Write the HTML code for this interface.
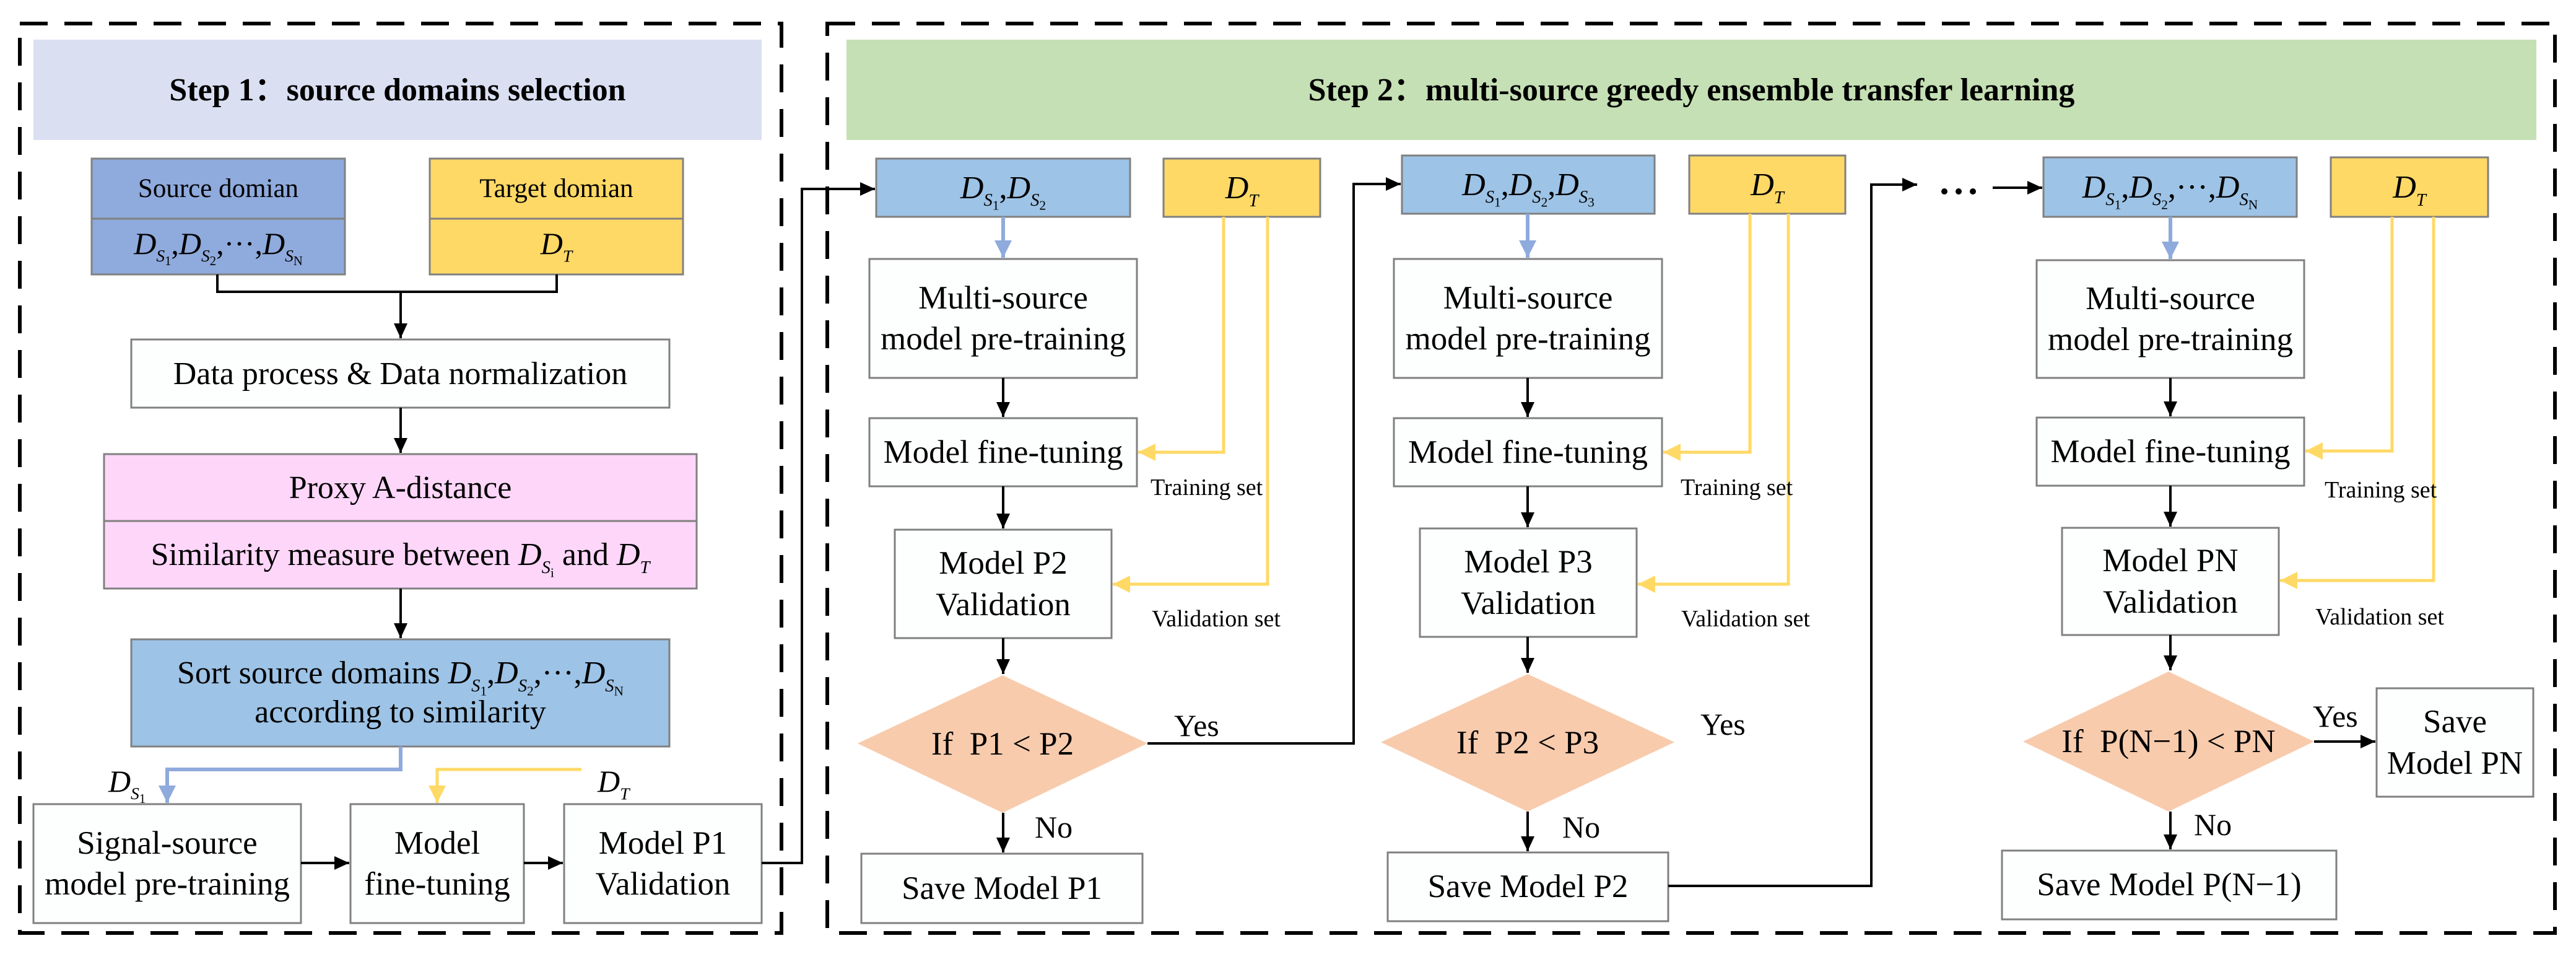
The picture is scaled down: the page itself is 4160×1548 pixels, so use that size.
<!DOCTYPE html>
<html><head><meta charset="utf-8">
<style>
html,body{margin:0;padding:0;background:#fff;}
#c{position:relative;width:4160px;height:1548px;overflow:hidden;background:#fff;font-family:"Liberation Serif","Times New Roman","DejaVu Serif",serif;color:#000;}
svg{position:absolute;left:0;top:0;}
.t{position:absolute;display:flex;align-items:center;justify-content:center;text-align:center;font-size:53px;line-height:1.25;white-space:nowrap;}
.t>div{display:block;}
.h{font-weight:bold;font-size:52px;}
.s{font-size:38px;position:absolute;white-space:nowrap;line-height:1;}
.y{font-size:50px;position:absolute;white-space:nowrap;line-height:1;}
i{font-style:italic;}
.sb{font-size:0.55em;vertical-align:-0.45em;font-style:italic;line-height:0;}
.sb2{font-size:0.75em;vertical-align:-0.3em;font-style:normal;line-height:0;}
</style></head><body><div id="c">
<svg width="4160" height="1548" viewBox="0 0 4160 1548">
<defs>
<marker id="ak" markerUnits="userSpaceOnUse" markerWidth="26" markerHeight="24" refX="24" refY="11" orient="auto"><path d="M0,0 L24,11 L0,22 z" fill="#000"/></marker>
<marker id="ab" markerUnits="userSpaceOnUse" markerWidth="30" markerHeight="30" refX="28" refY="14" orient="auto"><path d="M0,0 L28,14 L0,28 z" fill="#8faadc"/></marker>
<marker id="ay" markerUnits="userSpaceOnUse" markerWidth="30" markerHeight="30" refX="28" refY="14" orient="auto"><path d="M0,0 L28,14 L0,28 z" fill="#ffd966"/></marker>
</defs>
<g fill="none" stroke="#000" stroke-width="6" stroke-dasharray="45 27">
<rect x="32" y="38" width="1230" height="1468"/>
<rect x="1336" y="38" width="2790" height="1468"/>
</g>
<rect x="54" y="64" width="1176" height="162" fill="#dae0f2"/>
<rect x="1367" y="64" width="2729" height="162" fill="#c5e0b4"/>
<g stroke="#808080" stroke-width="3">
<rect x="148" y="256" width="409" height="187" fill="#8faadc"/>
<line x1="148" y1="353" x2="557" y2="353"/>
<rect x="694" y="256" width="409" height="187" fill="#ffd966"/>
<line x1="694" y1="353" x2="1103" y2="353"/>
<rect x="212" y="548" width="869" height="110" fill="#fdfefe"/>
<rect x="168" y="733" width="957" height="217" fill="#fdd6fa"/>
<line x1="168" y1="841" x2="1125" y2="841"/>
<rect x="212" y="1032" width="869" height="173" fill="#9dc3e6"/>
<rect x="54" y="1298" width="432" height="192" fill="#fdfefe"/>
<rect x="566" y="1298" width="280" height="192" fill="#fdfefe"/>
<rect x="911" y="1298" width="319" height="192" fill="#fdfefe"/>

<rect x="1415" y="256" width="410" height="94" fill="#9dc3e6"/>
<rect x="1879" y="256" width="253" height="94" fill="#ffd966"/>
<rect x="1404" y="418" width="432" height="192" fill="#fdfefe"/>
<rect x="1404" y="675" width="432" height="110" fill="#fdfefe"/>
<rect x="1445" y="855" width="350" height="175" fill="#fdfefe"/>
<rect x="1391" y="1378" width="454" height="112" fill="#fdfefe"/>

<rect x="2264" y="251" width="408" height="94" fill="#9dc3e6"/>
<rect x="2728" y="251" width="252" height="94" fill="#ffd966"/>
<rect x="2251" y="418" width="433" height="192" fill="#fdfefe"/>
<rect x="2251" y="675" width="433" height="110" fill="#fdfefe"/>
<rect x="2293" y="853" width="350" height="175" fill="#fdfefe"/>
<rect x="2241" y="1376" width="453" height="111" fill="#fdfefe"/>

<rect x="3300" y="254" width="409" height="96" fill="#9dc3e6"/>
<rect x="3764" y="254" width="254" height="96" fill="#ffd966"/>
<rect x="3289" y="420" width="432" height="190" fill="#fdfefe"/>
<rect x="3289" y="674" width="432" height="110" fill="#fdfefe"/>
<rect x="3330" y="852" width="350" height="173" fill="#fdfefe"/>
<rect x="3838" y="1111" width="253" height="175" fill="#fdfefe"/>
<rect x="3233" y="1373" width="540" height="111" fill="#fdfefe"/>
</g>
<g fill="#f8cbad">
<polygon points="1385,1200 1619,1090 1853,1200 1619,1312"/>
<polygon points="2230,1198 2467,1088 2704,1198 2467,1310"/>
<polygon points="3267,1197 3502,1084 3737,1197 3502,1310"/>
</g>
<g fill="none" stroke="#000" stroke-width="4">
<path d="M351 443 V471 H899 V443"/>
<path d="M647 471 V546" marker-end="url(#ak)"/>
<path d="M647 658 V731" marker-end="url(#ak)"/>
<path d="M647 950 V1030" marker-end="url(#ak)"/>
<path d="M486 1393 H564" marker-end="url(#ak)"/>
<path d="M846 1393 H909" marker-end="url(#ak)"/>
<path d="M1230 1393 H1295 V305 H1413" marker-end="url(#ak)"/>

<path d="M1620 610 V673" marker-end="url(#ak)"/>
<path d="M1620 785 V853" marker-end="url(#ak)"/>
<path d="M1620 1030 V1088" marker-end="url(#ak)"/>
<path d="M1620 1312 V1376" marker-end="url(#ak)"/>
<path d="M1853 1200 H2186 V297 H2262" marker-end="url(#ak)"/>

<path d="M2467 610 V673" marker-end="url(#ak)"/>
<path d="M2467 785 V851" marker-end="url(#ak)"/>
<path d="M2467 1028 V1086" marker-end="url(#ak)"/>
<path d="M2467 1310 V1374" marker-end="url(#ak)"/>
<path d="M2694 1430 H3022 V298 H3096" marker-end="url(#ak)"/>
<path d="M3218 303 H3298" marker-end="url(#ak)"/>

<path d="M3505 610 V672" marker-end="url(#ak)"/>
<path d="M3505 784 V850" marker-end="url(#ak)"/>
<path d="M3505 1025 V1082" marker-end="url(#ak)"/>
<path d="M3505 1310 V1371" marker-end="url(#ak)"/>
<path d="M3737 1197 H3836" marker-end="url(#ak)"/>
</g>
<g fill="none" stroke="#8faadc" stroke-width="6">
<path d="M647 1205 V1242 H270 V1296" marker-end="url(#ab)"/>
<path d="M1620 350 V416" marker-end="url(#ab)"/>
<path d="M2467 345 V416" marker-end="url(#ab)"/>
<path d="M3505 350 V418" marker-end="url(#ab)"/>
</g>
<g fill="none" stroke="#ffd966" stroke-width="5">
<path d="M939 1242 H706 V1296" marker-end="url(#ay)"/>
<path d="M1976 350 V730 H1838" marker-end="url(#ay)"/>
<path d="M2047 350 V943 H1797" marker-end="url(#ay)"/>
<path d="M2826 345 V730 H2686" marker-end="url(#ay)"/>
<path d="M2888 345 V943 H2645" marker-end="url(#ay)"/>
<path d="M3863 350 V728 H3723" marker-end="url(#ay)"/>
<path d="M3930 350 V937 H3682" marker-end="url(#ay)"/>
</g>
<g fill="#000">
<circle cx="3140" cy="309" r="5"/><circle cx="3163" cy="309" r="5"/><circle cx="3186" cy="309" r="5"/>
</g>
</svg>

<div class="t h" style="left:54px;top:64px;width:1176px;height:162px;"><div>Step 1：source domains selection</div></div>
<div class="t h" style="left:1367px;top:64px;width:2729px;height:162px;"><div>Step 2：multi-source greedy ensemble transfer learning</div></div>

<div class="t" style="left:148px;top:256px;width:409px;height:97px;font-size:43px;"><div>Source domian</div></div>
<div class="t" style="left:148px;top:353px;width:409px;height:80px;font-size:50px;"><div><i>D</i><span class="sb">S<span class="sb2">1</span></span>,<i>D</i><span class="sb">S<span class="sb2">2</span></span>,···,<i>D</i><span class="sb">S<span class="sb2">N</span></span></div></div>
<div class="t" style="left:694px;top:256px;width:409px;height:97px;font-size:43px;"><div>Target domian</div></div>
<div class="t" style="left:694px;top:353px;width:409px;height:80px;font-size:50px;"><div><i>D</i><span class="sb">T</span></div></div>
<div class="t" style="left:212px;top:548px;width:869px;height:110px;font-size:52px;"><div>Data process &amp; Data normalization</div></div>
<div class="t" style="left:168px;top:733px;width:957px;height:108px;font-size:52px;"><div>Proxy A-distance</div></div>
<div class="t" style="left:168px;top:841px;width:957px;height:109px;font-size:52px;"><div>Similarity measure between&nbsp;<i>D</i><span class="sb">S<span class="sb2">i</span></span>&nbsp;and&nbsp;<i>D</i><span class="sb">T</span></div></div>
<div class="t" style="left:212px;top:1032px;width:869px;height:173px;font-size:52px;line-height:1.2;"><div>Sort source domains&nbsp;<i>D</i><span class="sb">S<span class="sb2">1</span></span>,<i>D</i><span class="sb">S<span class="sb2">2</span></span>,···,<i>D</i><span class="sb">S<span class="sb2">N</span></span><br>according to similarity</div></div>
<div class="y" style="left:175px;top:1236px;"><i>D</i><span class="sb">S<span class="sb2">1</span></span></div>
<div class="y" style="left:965px;top:1236px;"><i>D</i><span class="sb">T</span></div>
<div class="t" style="left:54px;top:1298px;width:432px;height:192px;"><div>Signal-source<br>model pre-training</div></div>
<div class="t" style="left:566px;top:1298px;width:280px;height:192px;"><div>Model<br>fine-tuning</div></div>
<div class="t" style="left:911px;top:1298px;width:319px;height:192px;"><div>Model P1<br>Validation</div></div>

<div class="t" style="left:1415px;top:256px;width:410px;height:94px;font-size:52px;"><div><i>D</i><span class="sb">S<span class="sb2">1</span></span>,<i>D</i><span class="sb">S<span class="sb2">2</span></span></div></div>
<div class="t" style="left:1879px;top:256px;width:253px;height:94px;font-size:52px;"><div><i>D</i><span class="sb">T</span></div></div>
<div class="t" style="left:1404px;top:418px;width:432px;height:192px;"><div>Multi-source<br>model pre-training</div></div>
<div class="t" style="left:1404px;top:675px;width:432px;height:110px;"><div>Model fine-tuning</div></div>
<div class="t" style="left:1445px;top:855px;width:350px;height:175px;"><div>Model P2<br>Validation</div></div>
<div class="t" style="left:1385px;top:1090px;width:468px;height:222px;"><div>If&nbsp; P1 &lt; P2</div></div>
<div class="t" style="left:1391px;top:1378px;width:454px;height:112px;"><div>Save Model P1</div></div>
<div class="s" style="left:1858px;top:768px;">Training set</div>
<div class="s" style="left:1860px;top:980px;">Validation set</div>
<div class="y" style="left:1896px;top:1146px;">Yes</div>
<div class="y" style="left:1671px;top:1310px;">No</div>

<div class="t" style="left:2264px;top:251px;width:408px;height:94px;font-size:52px;"><div><i>D</i><span class="sb">S<span class="sb2">1</span></span>,<i>D</i><span class="sb">S<span class="sb2">2</span></span>,<i>D</i><span class="sb">S<span class="sb2">3</span></span></div></div>
<div class="t" style="left:2728px;top:251px;width:252px;height:94px;font-size:52px;"><div><i>D</i><span class="sb">T</span></div></div>
<div class="t" style="left:2251px;top:418px;width:433px;height:192px;"><div>Multi-source<br>model pre-training</div></div>
<div class="t" style="left:2251px;top:675px;width:433px;height:110px;"><div>Model fine-tuning</div></div>
<div class="t" style="left:2293px;top:853px;width:350px;height:175px;"><div>Model P3<br>Validation</div></div>
<div class="t" style="left:2230px;top:1088px;width:474px;height:222px;"><div>If&nbsp; P2 &lt; P3</div></div>
<div class="t" style="left:2241px;top:1376px;width:453px;height:111px;"><div>Save Model P2</div></div>
<div class="s" style="left:2714px;top:768px;">Training set</div>
<div class="s" style="left:2715px;top:980px;">Validation set</div>
<div class="y" style="left:2746px;top:1144px;">Yes</div>
<div class="y" style="left:2523px;top:1310px;">No</div>

<div class="t" style="left:3300px;top:254px;width:409px;height:96px;font-size:52px;"><div><i>D</i><span class="sb">S<span class="sb2">1</span></span>,<i>D</i><span class="sb">S<span class="sb2">2</span></span>,···,<i>D</i><span class="sb">S<span class="sb2">N</span></span></div></div>
<div class="t" style="left:3764px;top:254px;width:254px;height:96px;font-size:52px;"><div><i>D</i><span class="sb">T</span></div></div>
<div class="t" style="left:3289px;top:420px;width:432px;height:190px;"><div>Multi-source<br>model pre-training</div></div>
<div class="t" style="left:3289px;top:674px;width:432px;height:110px;"><div>Model fine-tuning</div></div>
<div class="t" style="left:3330px;top:852px;width:350px;height:173px;"><div>Model PN<br>Validation</div></div>
<div class="t" style="left:3267px;top:1084px;width:470px;height:226px;"><div>If&nbsp; P(N−1) &lt; PN</div></div>
<div class="t" style="left:3838px;top:1111px;width:253px;height:175px;"><div>Save<br>Model PN</div></div>
<div class="t" style="left:3233px;top:1373px;width:540px;height:111px;"><div>Save Model P(N−1)</div></div>
<div class="s" style="left:3754px;top:772px;">Training set</div>
<div class="s" style="left:3739px;top:977px;">Validation set</div>
<div class="y" style="left:3735px;top:1131px;">Yes</div>
<div class="y" style="left:3543px;top:1306px;">No</div>
</div></body></html>
